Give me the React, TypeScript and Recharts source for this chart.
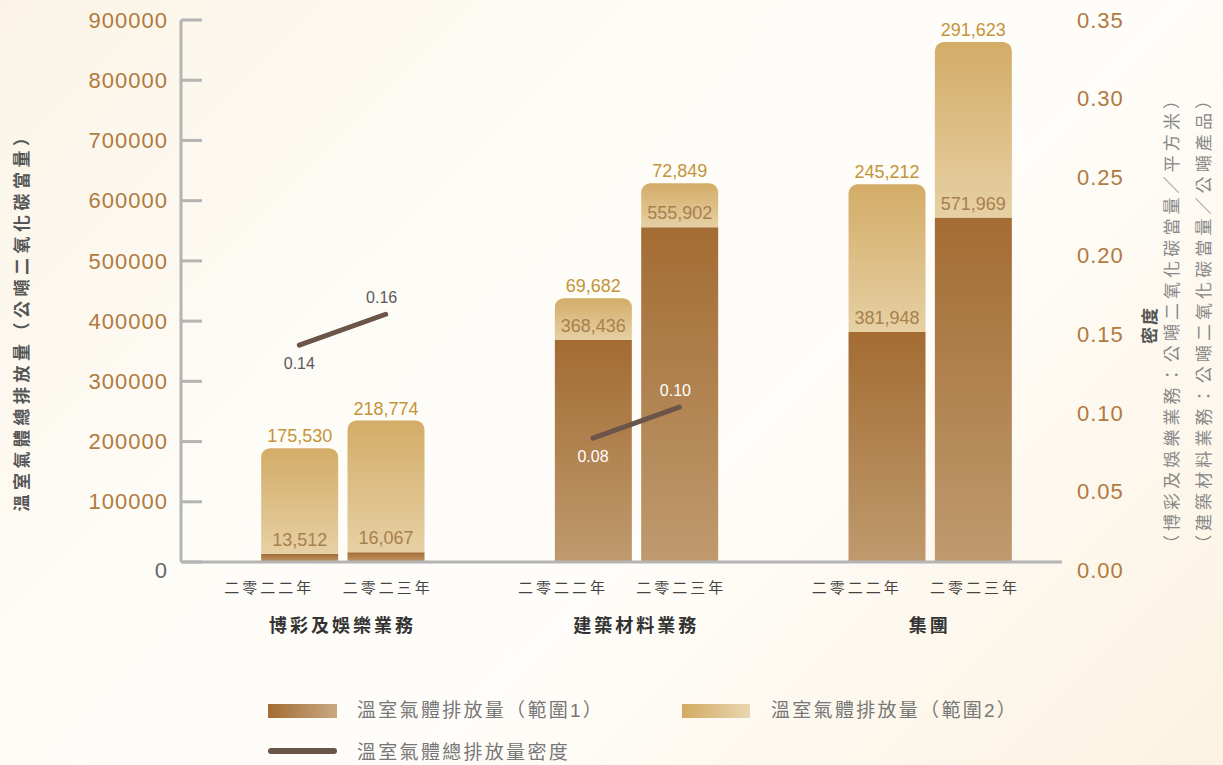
import * as React from 'react';
import { ComposedChart, Bar, Line, XAxis, YAxis, LabelList, Legend } from 'recharts';

const groups = ['博彩及娛樂業務', '建築材料業務', '集團'];
const years = ['二零二二年', '二零二三年'];
const scope1 = [
    [13512, 16067],
    [368436, 555902],
    [381948, 571969],
];
const scope2 = [
    [175530, 218774],
    [69682, 72849],
    [245212, 291623],
];
const density: (number | null)[][] = [
    [0.14, 0.16],
    [0.08, 0.1],
    [null, null],
];
const leftTicks = [0, 100000, 200000, 300000, 400000, 500000, 600000, 700000, 800000, 900000];
const rightTicks = [0, 0.05, 0.1, 0.15, 0.2, 0.25, 0.3, 0.35];

const legendNames = ['溫室氣體排放量（範圍1）', '溫室氣體排放量（範圍2）', '溫室氣體總排放量密度'];
const leftTitle = '溫室氣體總排放量（公噸二氧化碳當量）';
const rightTitles = ['密度', '（博彩及娛樂業務：公噸二氧化碳當量／平方米）', '（建築材料業務：公噸二氧化碳當量／公噸產品）'];

// half the distance between the two bars of a group, in group units
const OFF = 0.147;
const FONT = '"Liberation Sans", "Noto Sans CJK TC", sans-serif';
const TICK_BROWN = '#b07a40';
const AXIS_GREY = '#b4b4b4';
const LINE_COLOR = '#6b5448';

const rows = groups.flatMap((g, gi) =>
    years.map((yr, yi) => {
        const row: any = {
            x: gi + (yi === 0 ? -OFF : OFF),
            group: gi,
            year: yi,
            s1: scope1[gi][yi],
            s2: scope2[gi][yi],
        };
        groups.forEach((_, k) => {
            row['d' + k] = k === gi ? density[gi][yi] : null;
        });
        return row;
    })
);

const fmt = (v: number) => v.toLocaleString('en-US');

function LeftTick(props: any) {
    const { x, y, payload } = props;
    const zero = payload.value === 0;
    return (
        <text
            x={x}
            y={y + (zero ? 8 : 0)}
            dy="0.35em"
            textAnchor="end"
            fill={zero ? '#666' : TICK_BROWN}
            fontSize={22}
            letterSpacing={1}
            fontFamily={FONT}
        >
            {payload.value}
        </text>
    );
}

function RightTick(props: any) {
    const { x, y, payload } = props;
    // the printed labels sit a little lower towards the bottom of the scale
    const shift = 8 * (1 - payload.value / 0.35);
    return (
        <text x={x} y={y + shift} dy="0.35em" textAnchor="start" fill={TICK_BROWN} fontSize={22} letterSpacing={1} fontFamily={FONT}>
            {payload.value.toFixed(2)}
        </text>
    );
}

function YearTick(props: any) {
    const { x, y, index } = props;
    const first = index % 2 === 0;
    return (
        <text
            x={x + (first ? -30 : 2)}
            y={y}
            dy="0.71em"
            textAnchor="middle"
            fill="#444"
            fontSize={15}
            letterSpacing={3}
            fontFamily={FONT}
        >
            {years[index % 2]}
        </text>
    );
}

function GroupTick(props: any) {
    const { x, y, index } = props;
    return (
        <text x={x} y={y} dy="0.71em" textAnchor="middle" fill="#333" fontSize={18} fontWeight="bold" letterSpacing={3} fontFamily={FONT}>
            {groups[index]}
        </text>
    );
}

function Scope1Label(props: any) {
    const { x, y, width, height, value } = props;
    if (value == null) return null;
    return (
        <text x={x + width / 2} y={y + height - 8} textAnchor="middle" fill="#a8804f" fontSize={18} fontFamily={FONT}>
            {fmt(value)}
        </text>
    );
}

function Scope2Label(props: any) {
    const { x, y, width, value } = props;
    return (
        <text x={x + width / 2} y={y - 6} textAnchor="middle" fill="#c4943a" fontSize={18} fontFamily={FONT}>
            {fmt(value)}
        </text>
    );
}

function makeDensityLabel(color: string) {
    return function DensityLabel(props: any) {
        const { x, y, value, index } = props;
        if (value == null) return null;
        const below = rows[index].year === 0;
        return (
            <text
                x={below ? x : x - 4}
                y={below ? y + 24 : y - 11}
                textAnchor="middle"
                fill={color}
                fontSize={16}
                fontFamily={FONT}
            >
                {value.toFixed(2)}
            </text>
        );
    };
}

function LegendContent() {
    const text: React.CSSProperties = {
        position: 'absolute',
        fontSize: 19,
        letterSpacing: 2.3,
        color: '#777',
        fontFamily: FONT,
        lineHeight: '24px',
        whiteSpace: 'nowrap',
    };
    return (
        <div style={{ position: 'relative', height: 118, width: 1223 }}>
            <div style={{ position: 'absolute', left: 268, top: 57, width: 69, height: 14, background: 'linear-gradient(to right, #a36c33, #c9a880)' }} />
            <div style={{ ...text, left: 357, top: 52 }}>{legendNames[0]}</div>
            <div style={{ position: 'absolute', left: 682, top: 57, width: 68, height: 14, background: 'linear-gradient(to right, #d2aa62, #e9d6b0)' }} />
            <div style={{ ...text, left: 771, top: 52 }}>{legendNames[1]}</div>
            <div style={{ position: 'absolute', left: 268, top: 101, width: 69, height: 6, borderRadius: 3, background: LINE_COLOR }} />
            <div style={{ ...text, left: 357, top: 94 }}>{legendNames[2]}</div>
        </div>
    );
}

export default function App() {
    return (
        <div
            style={{
                position: 'absolute',
                left: 0,
                top: 0,
                width: 1223,
                height: 765,
                background: 'linear-gradient(135deg, #fbf4e6 0%, #fefcf7 35%, #fffdf9 60%, #fbf2e1 100%)',
                overflow: 'hidden',
            }}
        >
            <ComposedChart width={1223} height={765} data={rows} margin={{ top: 20, right: 0, bottom: 0, left: 0 }}>
                <defs>
                    <linearGradient id="gradS1" x1="0" y1="0" x2="0" y2="1">
                        <stop offset="0%" stopColor="#a36c33" />
                        <stop offset="100%" stopColor="#bf9a6e" />
                    </linearGradient>
                    <linearGradient id="gradS2" x1="0" y1="0" x2="0" y2="1">
                        <stop offset="0%" stopColor="#d3ac67" />
                        <stop offset="100%" stopColor="#e6d0a4" />
                    </linearGradient>
                </defs>
                <XAxis
                    xAxisId="bars"
                    dataKey="x"
                    type="number"
                    domain={[-0.55, 2.45]}
                    ticks={rows.map(r => r.x)}
                    interval={0}
                    height={40}
                    axisLine={{ stroke: AXIS_GREY, strokeWidth: 3 }}
                    tickLine={false}
                    tickSize={0}
                    tickMargin={20}
                    tick={<YearTick />}
                />
                <XAxis
                    xAxisId="groups"
                    dataKey="group"
                    type="number"
                    domain={[-0.55, 2.45]}
                    ticks={[0, 1, 2]}
                    interval={0}
                    height={45}
                    axisLine={false}
                    tickLine={false}
                    tickSize={0}
                    tickMargin={17}
                    tick={<GroupTick />}
                />
                <YAxis
                    yAxisId="left"
                    domain={[0, 900000]}
                    ticks={leftTicks}
                    interval={0}
                    width={181}
                    axisLine={{ stroke: AXIS_GREY, strokeWidth: 3 }}
                    tickLine={{ stroke: AXIS_GREY, strokeWidth: 3 }}
                    tickSize={-21}
                    tickMargin={34}
                    tick={<LeftTick />}
                    label={() => (
                        <text
                            x={22}
                            y={318}
                            transform="rotate(-90 22 318)"
                            textAnchor="middle"
                            dominantBaseline="central"
                            fill="#555"
                            fontSize={17}
                            fontWeight="bold"
                            letterSpacing={4.5}
                            fontFamily={FONT}
                        >
                            {leftTitle}
                        </text>
                    )}
                />
                <YAxis
                    yAxisId="right"
                    orientation="right"
                    domain={[0, 0.35]}
                    ticks={rightTicks}
                    interval={0}
                    width={161}
                    axisLine={false}
                    tickLine={false}
                    tickMargin={9}
                    tick={<RightTick />}
                    label={() => (
                        <g fontFamily={FONT}>
                            <text x={1150} y={325} transform="rotate(-90 1150 325)" textAnchor="middle" dominantBaseline="central" fill="#555" fontSize={17} fontWeight="bold" letterSpacing={2}>
                                {rightTitles[0]}
                            </text>
                            <text x={1172} y={320} transform="rotate(-90 1172 320)" textAnchor="middle" dominantBaseline="central" fill="#888" fontSize={17} letterSpacing={4.1}>
                                {rightTitles[1]}
                            </text>
                            <text x={1204} y={320} transform="rotate(-90 1204 320)" textAnchor="middle" dominantBaseline="central" fill="#888" fontSize={17} letterSpacing={4.1}>
                                {rightTitles[2]}
                            </text>
                        </g>
                    )}
                />
                <Bar xAxisId="bars" yAxisId="left" dataKey="s1" stackId="a" barSize={77} fill="url(#gradS1)" isAnimationActive={false} />
                <Bar
                    xAxisId="bars"
                    yAxisId="left"
                    dataKey="s2"
                    stackId="a"
                    barSize={77}
                    fill="url(#gradS2)"
                    radius={[9, 9, 0, 0]}
                    isAnimationActive={false}
                >
                    <LabelList dataKey="s2" content={<Scope2Label />} />
                    <LabelList dataKey="s1" content={<Scope1Label />} />
                </Bar>
                {groups.map((g, gi) =>
                    density[gi].some(v => v != null) ? (
                        <Line
                            key={g}
                            xAxisId="bars"
                            yAxisId="right"
                            dataKey={'d' + gi}
                            stroke={LINE_COLOR}
                            strokeWidth={5}
                            strokeLinecap="round"
                            dot={false}
                            activeDot={false}
                            connectNulls={false}
                            isAnimationActive={false}
                        >
                            <LabelList dataKey={'d' + gi} content={makeDensityLabel(gi === 0 ? '#5a5a5a' : '#ffffff')} />
                        </Line>
                    ) : null
                )}
                <Legend verticalAlign="bottom" content={<LegendContent />} wrapperStyle={{ left: 0, width: 1223 }} />
            </ComposedChart>
        </div>
    );
}
